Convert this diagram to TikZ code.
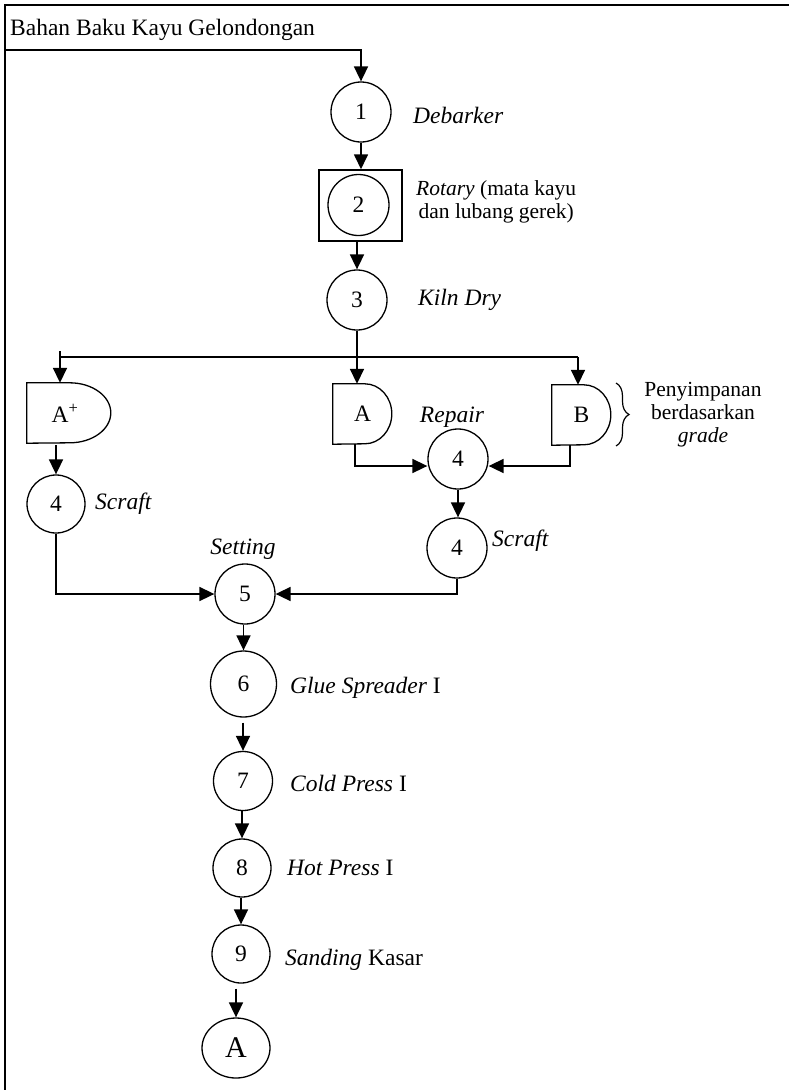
\documentclass[tikz,border=0pt]{standalone}
\usepackage{fontspec}
\setmainfont{Liberation Serif}
\usetikzlibrary{arrows.meta,shapes.geometric,decorations.pathreplacing}
\newcommand\dout[3]{\draw[storeline] (#1.south west) -- (#1.north west) -- ++(#2,0) arc[start angle=90,end angle=-90,x radius=#3pt,y radius=30pt] -- cycle;}
\begin{document}
\begin{tikzpicture}[x=1pt,y=-1pt,
  font=\fontsize{23.5}{28}\selectfont,
  proc/.style={circle,draw,line width=1.3pt,minimum size=60pt,inner sep=0pt},
  store/.style={rectangle,inner sep=0pt,minimum height=60pt},
  storeline/.style={line width=1.3pt},
  conn/.style={line width=1.7pt,-{Triangle[length=15pt,width=14pt]}},
  plain/.style={line width=1.7pt},
  lbl/.style={anchor=west,inner sep=0pt},
  note/.style={font=\fontsize{21.5}{23}\selectfont,align=center,inner sep=0pt}]
\useasboundingbox (0,0) rectangle (789,1090);
\draw[line width=2pt] (5,1090) -- (5,5) -- (789,5);
\node[lbl] (title) at (10,30) {Bahan Baku Kayu Gelondongan};
\coordinate (start) at (5,50);

\node[proc] (c1) at (361,112) {1};
\node[draw,line width=1.5pt,minimum width=83pt,minimum height=71pt,inner sep=0pt] (b2) at (360.5,205.5) {};
\node[proc,minimum size=61pt] (c2) at (358.5,205) {2};
\node[proc] (c3) at (357,300) {3};

\coordinate (dl) at (60,357);
\coordinate (dtop) at (60,351);
\coordinate (dr) at (578,357);

\node[store,minimum width=84pt] (Ap) at (69,413) {A\textsuperscript{+}\hspace*{8pt}};
\dout{Ap}{43}{41}
\node[store,minimum width=59pt] (A) at (362.5,414) {A};
\dout{A}{32}{27}
\node[store,minimum width=59pt] (B) at (581.5,415) {B};
\dout{B}{32}{27}

\node[proc] (r4) at (458,459) {4};
\node[proc,minimum size=58pt] (s1) at (56,504) {4};
\node[proc] (s2) at (457,548) {4};
\node[proc] (c5) at (245,594) {5};
\node[proc,minimum size=66pt] (c6) at (243.5,684) {6};
\node[proc,minimum size=59pt] (c7) at (243,781) {7};
\node[proc,minimum size=58pt] (c8) at (242,868) {8};
\node[proc,minimum size=58pt] (c9) at (241,954) {9};
\node[ellipse,draw,line width=1.3pt,minimum width=68pt,minimum height=60pt,inner sep=0pt,font=\fontsize{30}{30}\selectfont] (endA) at (236,1048) {A};

% labels
\node[lbl] (l1) at (413,115) {\textit{Debarker}};
\node[note,anchor=west] (l2) at (416,202) {\textit{Rotary} (mata kayu\\dan lubang gerek)};
\node[lbl] (l3) at (418,300) {\textit{Kiln Dry}};
\node[inner sep=0pt] (lrep) at (452,417) {\textit{Repair}};
\node[lbl] (ls1) at (95,504) {\textit{Scraft}};
\node[lbl] (ls2) at (492,541) {\textit{Scraft}};
\node[inner sep=0pt] (lset) at (243,549) {\textit{Setting}};
\node[lbl] (l6) at (290,688) {\textit{Glue Spreader} I};
\node[lbl] (l7) at (290,783) {\textit{Cold Press} I};
\node[lbl] (l8) at (287,868) {\textit{Hot Press} I};
\node[lbl] (l9) at (285,960) {\textit{Sanding} Kasar};
\node[note] (lg) at (703,415) {Penyimpanan\\berdasarkan\\\textit{grade}};
\draw[line width=1.2pt,decorate,decoration={brace,amplitude=13pt}] (616,383) -- (616,446);

% connectors
\draw[conn] (start) -| (c1.north);
\draw[conn] (c1.south) -- (c1.south |- b2.north);
\draw[conn] (b2.south -| c3.north) -- (c3.north);
\draw[plain] (dl) -- (dr);
\draw[conn] (c3.south) -- (c3.south |- A.north);
\draw[conn] (dtop) -- (dtop |- Ap.north);
\draw[conn] (dr) -- (dr |- B.north);
\draw[conn] ([yshift=-2pt]s1.north |- Ap.south) -- (s1.north);
\draw[conn] ([xshift=-7.5pt]A.south) |- ([yshift=-7pt]r4.west);
\draw[conn] ([xshift=-11.5pt]B.south) |- ([yshift=-7pt]r4.east);
\draw[conn] (r4.south) -- (r4.south |- s2.north);
\draw[conn] (s1.south) |- (c5.west);
\draw[conn] (s2.south) |- (c5.east);
\draw[conn] (c6.north |- c5.south) -- (c6.north);
\draw[conn,shorten <=5pt] (c7.north |- c6.south) -- (c7.north);
\draw[conn] (c8.north |- c7.south) -- (c8.north);
\draw[conn] (c9.north |- c8.south) -- (c9.north);
\draw[conn,shorten <=5pt] (endA.north |- c9.south) -- (endA.north);
\end{tikzpicture}
\end{document}
